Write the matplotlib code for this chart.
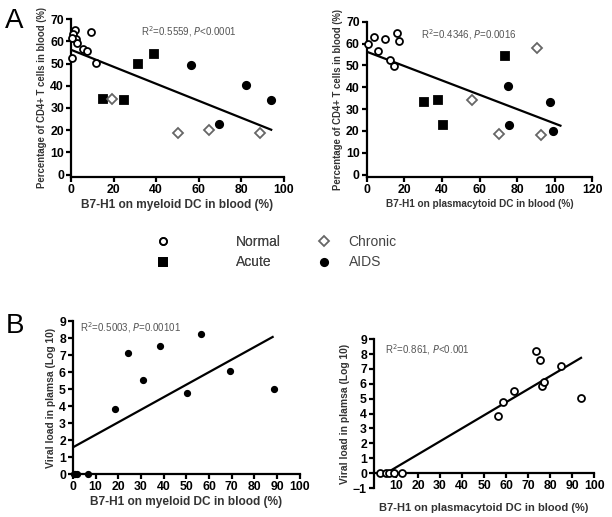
import matplotlib.pyplot as plt
from matplotlib.lines import Line2D

plt.rcParams['font.family'] = ['Liberation Sans', 'DejaVu Sans']

# ---- panel A, left: B7-H1 on myeloid DC vs CD4+ T cells
mdc_normal_x = [1.9, 1.1, 2.2, 2.7, 0.6, 5.5, 7.4, 11.7, 9.4, 0.5]
mdc_normal_y = [65.0, 63.4, 61.1, 59.3, 52.7, 56.6, 55.5, 50.2, 64.0, 61.5]
mdc_acute_x = [15.0, 24.9, 31.5, 38.8]
mdc_acute_y = [34.2, 33.5, 49.6, 54.3]
mdc_chronic_x = [19.2, 50.4, 64.9, 88.7]
mdc_chronic_y = [34.2, 18.9, 19.9, 18.6]
mdc_aids_x = [56.3, 69.3, 82.0, 93.7]
mdc_aids_y = [49.5, 23.0, 40.3, 33.5]
mdc_fit = (56.2, -0.383, 0, 94)          # intercept, slope, x from, x to

# ---- panel A, right: B7-H1 on plasmacytoid DC vs CD4+ T cells
pdc_normal_x = [0.9, 3.9, 5.8, 9.7, 12.4, 14.7, 16.1, 17.3]
pdc_normal_y = [59.7, 63.0, 56.8, 62.1, 52.7, 49.5, 64.9, 61.1]
pdc_acute_x = [30.4, 37.7, 40.4, 73.8]
pdc_acute_y = [33.3, 34.1, 22.7, 54.3]
pdc_chronic_x = [55.9, 70.4, 90.3, 92.6]
pdc_chronic_y = [34.1, 18.5, 58.0, 18.2]
pdc_aids_x = [75.2, 75.9, 97.7, 99.1]
pdc_aids_y = [40.4, 22.9, 33.4, 19.8]
pdc_fit = (56.3, -0.329, 0, 103)

# ---- panel B: viral load
vl_mdc_x = [0.3, 1.0, 1.8, 6.5, 18.6, 24.3, 31.1, 38.6, 50.3, 56.3, 69.1, 88.6]
vl_mdc_y = [0, 0, 0, 0, 3.84, 7.15, 5.53, 7.54, 4.74, 8.21, 6.04, 5.02]
vl_mdc_fit = (1.57, 0.0738, 0, 88)

vl_pdc_x = [2.9, 5.4, 6.7, 9.2, 12.9, 56.4, 58.8, 63.5, 73.4, 75.2, 76.4, 77.3, 84.7, 94.1]
vl_pdc_y = [0, 0, 0, 0, 0, 3.86, 4.78, 5.54, 8.21, 7.57, 5.87, 6.12, 7.19, 5.04]
vl_pdc_fit = (-0.49, 0.0876, 5.6, 94)

styles = {
    'Normal': dict(marker='o', mfc='white', mec='black', ms=5),
    'Acute': dict(marker='s', mfc='black', mec='black', ms=5.3),
    'Chronic': dict(marker='D', mfc='white', mec='#666666', ms=4.6),
    'AIDS': dict(marker='o', mfc='black', mec='black', ms=5.3),
}
narrow = ['Liberation Sans Narrow', 'Liberation Sans', 'DejaVu Sans']

fig = plt.figure(figsize=(6.12, 5.17), dpi=100)


def style_axes(ax, xlabel, ylabel, xsize, ysize):
    for s in ['top', 'right']:
        ax.spines[s].set_visible(False)
    for s in ['left', 'bottom']:
        ax.spines[s].set_linewidth(1.6)
    ax.tick_params(width=1.6, length=3.5, labelsize=8.8, pad=1.5)
    for lab in ax.get_xticklabels() + ax.get_yticklabels():
        lab.set_fontweight('bold')
    ax.set_xlabel(xlabel, fontsize=xsize, fontweight='bold', color='#333333', labelpad=2)
    ax.set_ylabel(ylabel, fontsize=ysize, fontweight='bold', color='#333333', labelpad=2)


def fit_line(ax, fit):
    b, m, x0, x1 = fit
    ax.plot([x0, x1], [b + m * x0, b + m * x1], color='black', lw=1.6, zorder=2)


def stat_text(ax, x, y, r2, p):
    ax.text(x, y, r'R$^2$=' + r2 + r', $\it{P}$' + p, transform=ax.transAxes,
            fontsize=7, color='#555555', va='center', family=narrow)


# A left
ax1 = fig.add_axes([0.116, 0.658, 0.348, 0.305])
groups = [('Normal', mdc_normal_x, mdc_normal_y), ('Acute', mdc_acute_x, mdc_acute_y),
          ('Chronic', mdc_chronic_x, mdc_chronic_y), ('AIDS', mdc_aids_x, mdc_aids_y)]
fit_line(ax1, mdc_fit)
for name, xs, ys in groups:
    ax1.plot(xs, ys, ls='none', mew=1.3, clip_on=False, zorder=3, **styles[name])
ax1.set_xlim(0, 100)
ax1.set_ylim(-1, 70)
ax1.set_xticks(range(0, 101, 20))
ax1.set_yticks(range(0, 71, 10))
style_axes(ax1, 'B7-H1 on myeloid DC in blood (%)', 'Percentage of CD4+ T cells in blood (%)', 8.6, 6.9)
stat_text(ax1, 0.33, 0.92, '0.5559', '<0.0001')

# A right
ax2 = fig.add_axes([0.599, 0.658, 0.369, 0.30])
groups = [('Normal', pdc_normal_x, pdc_normal_y), ('Acute', pdc_acute_x, pdc_acute_y),
          ('Chronic', pdc_chronic_x, pdc_chronic_y), ('AIDS', pdc_aids_x, pdc_aids_y)]
fit_line(ax2, pdc_fit)
for name, xs, ys in groups:
    ax2.plot(xs, ys, ls='none', mew=1.3, clip_on=False, zorder=3, **styles[name])
ax2.set_xlim(0, 120)
ax2.set_ylim(-1, 70)
ax2.set_xticks(range(0, 121, 20))
ax2.set_yticks(range(0, 71, 10))
style_axes(ax2, 'B7-H1 on plasmacytoid DC in blood (%)', 'Percentage of CD4+ T cells in blood (%)', 7.2, 6.9)
stat_text(ax2, 0.24, 0.92, '0.4346', '=0.0016')

# legend between the panels (two columns with different gaps)
leg_kw = dict(frameon=False, loc='center left', handlelength=1, labelspacing=0.5,
              prop={'size': 10}, labelcolor='#444444', borderpad=0.4)
h_left = [Line2D([], [], ls='none', mew=1.3, **styles[n]) for n in ['Normal', 'Acute']]
h_right = [Line2D([], [], ls='none', mew=1.3, **styles[n]) for n in ['Chronic', 'AIDS']]
leg1 = fig.legend(h_left, ['Normal', 'Acute'], bbox_to_anchor=(0.235, 0.5126),
                  handletextpad=4.7, **leg_kw)
fig.add_artist(leg1)
fig.legend(h_right, ['Chronic', 'AIDS'], bbox_to_anchor=(0.497, 0.5126),
           handletextpad=1.3, **leg_kw)

# B left
ax3 = fig.add_axes([0.119, 0.083, 0.371, 0.296])
fit_line(ax3, vl_mdc_fit)
ax3.plot(vl_mdc_x, vl_mdc_y, ls='none', marker='o', color='black', ms=4.2, clip_on=False, zorder=3)
ax3.set_xlim(0, 100)
ax3.set_ylim(0, 9)
ax3.set_xticks(range(0, 101, 10))
ax3.set_yticks(range(0, 10))
style_axes(ax3, 'B7-H1 on myeloid DC in blood (%)', 'Viral load in plamsa (Log 10)', 8.6, 7.4)
stat_text(ax3, 0.03, 0.96, '0.5003', '=0.00101')

# B right
ax4 = fig.add_axes([0.611, 0.056, 0.36, 0.288])
fit_line(ax4, vl_pdc_fit)
ax4.plot(vl_pdc_x, vl_pdc_y, ls='none', marker='o', mfc='white', mec='black', mew=1.3,
         ms=5, clip_on=False, zorder=3)
ax4.set_xlim(0, 100)
ax4.set_ylim(-1, 9)
ax4.spines['bottom'].set_position(('data', 0))
ax4.set_xticks(range(10, 101, 10))
ax4.set_yticks(range(-1, 10))
style_axes(ax4, 'B7-H1 on plasmacytoid DC in blood (%)', 'Viral load in plamsa (Log 10)', 8.0, 7.4)
ax4.xaxis.set_label_coords(0.5, -0.1)
stat_text(ax4, 0.05, 0.93, '0.861', '<0.001')

fig.text(0.008, 0.945, 'A', fontsize=20)
fig.text(0.01, 0.355, 'B', fontsize=20)

fig.savefig('out.png', dpi=100)
